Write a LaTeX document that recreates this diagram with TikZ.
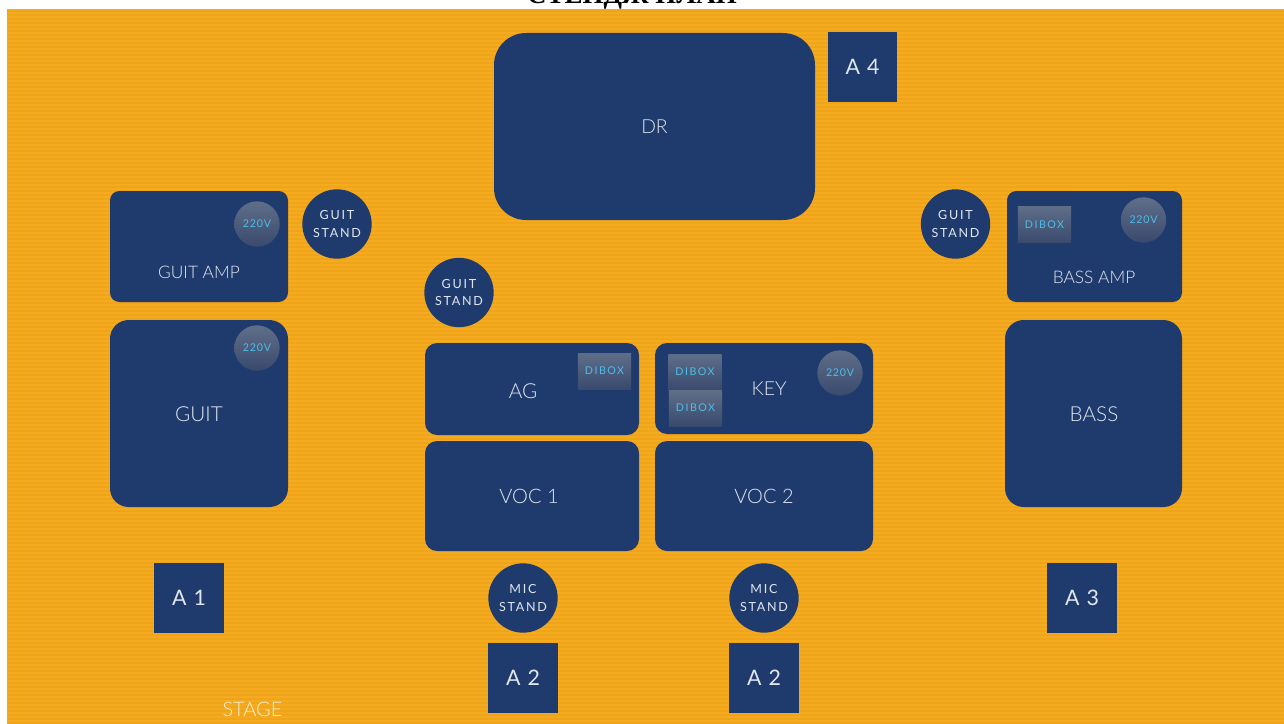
\documentclass[tikz,border=0pt]{standalone}
\usepackage{fontspec}
\setmainfont{Lato}[UprightFont=* Light,BoldFont=*]
\newfontfamily\spaced{Lato}[LetterSpace=14]
\newfontfamily\spacedlite{Lato}[LetterSpace=7]
\newfontfamily\titlefont{Liberation Serif}
\definecolor{stagebg}{HTML}{F5AB1F}
\definecolor{stripe}{HTML}{F0A41A}
\definecolor{navy}{HTML}{1F3B6D}
\definecolor{labelc}{HTML}{E2E7F0}
\definecolor{cyanc}{HTML}{4DBDE8}
\definecolor{gtop}{HTML}{5F6E88}
\definecolor{gbot}{HTML}{3A4A6E}
\tikzset{
  x=0.75pt,y=-0.75pt,
  blockbox/.style={fill=navy,draw=none,rounded corners=#1},
  blockbox/.default=9pt,
  lab/.style={text=labelc,font=\fontsize{14.5}{16}\selectfont,inner sep=0pt,align=center},
  amplab/.style={text=labelc,font=\fontsize{13}{15}\selectfont,inner sep=0pt,align=center},
  volt/.style={circle,minimum size=34pt,inner sep=0pt,top color=gtop,bottom color=gbot,draw=none,text=cyanc,font=\spacedlite\fontsize{8}{9}\selectfont},
  dib/.style={rectangle,minimum width=40pt,minimum height=27pt,inner sep=0pt,top color=gtop,bottom color=gbot,draw=none,text=cyanc,font=\spaced\fontsize{8}{9}\selectfont},
  standc/.style={circle,fill=navy,draw=none,minimum size=52pt,inner sep=0pt,text=labelc,font=\spaced\fontsize{9.4}{13}\selectfont,align=center},
  asq/.style={rectangle,fill=navy,draw=none,minimum size=52pt,inner sep=0pt,text=labelc,font=\spacedlite\fontsize{16}{19}\selectfont},
}
\newcommand{\blk}[5]{\path[blockbox=#5] (#1,#2) rectangle (#3,#4);}
\begin{document}
\begin{tikzpicture}
\useasboundingbox (0,0) rectangle (1284,724);
\clip (0,0) rectangle (1284,724);
\fill[white] (0,0) rectangle (1284,724);
\node[font=\titlefont\bfseries\fontsize{20.2}{22}\selectfont,anchor=base,text=black,inner sep=0pt] (title) at (632,4) {СТЕНДЖ ПЛАН};
\fill[stagebg] (7,9) rectangle (1284,724);
\foreach \k in {0,...,178} {\fill[stripe] (7,{10+4*\k}) rectangle (1284,{11.6+4*\k});}
\blk{494}{33}{815}{220}{24pt}
\node[lab] (dr) at (654.5,127) {DR};
\node[asq] (a4) at (862.5,67) {A 4};
\blk{110}{191}{288}{302}{7pt}
\node[amplab] (guitamp) at (199,272) {GUIT AMP};
\node[volt] (v1) at (257,224) {220V};
\node[standc] (gs1) at (337,224) {GUIT\\STAND};
\node[standc] (gs2) at (459,292.5) {GUIT\\STAND};
\node[standc] (gs3) at (955.5,224) {GUIT\\STAND};
\blk{1007}{191}{1182}{302}{7pt}
\node[amplab] (bassamp) at (1094,277) {BASS AMP};
\node[dib] (d1) at (1044.5,224.5) {DIBOX};
\node[volt] (v2) at (1143.5,220) {220V};
\blk{110}{320}{288}{507}{14pt}
\node[lab,font=\fontsize{15.5}{17}\selectfont] (guit) at (199,414) {GUIT};
\node[volt] (v3) at (257,348) {220V};
\blk{1005}{320}{1182}{507}{14pt}
\node[lab,font=\fontsize{15.5}{17}\selectfont] (bass) at (1094,414) {BASS};
\blk{425}{343}{639}{435}{9pt}
\node[lab,font=\fontsize{15.5}{17}\selectfont] (ag) at (523,391) {AG};
\node[dib] (d2) at (604.5,371) {DIBOX};
\blk{655}{343}{873}{434}{9pt}
\node[lab] (key) at (769,388.5) {KEY};
\node[dib] (d3) at (695,372) {DIBOX};
\node[dib] (d4) at (695.5,408) {DIBOX};
\node[volt] (v4) at (840,373) {220V};
\blk{425}{441}{639}{551}{9pt}
\node[lab,font=\fontsize{15}{17}\selectfont] (voc1) at (529,496) {VOC 1};
\blk{655}{441}{873}{551}{9pt}
\node[lab,font=\fontsize{15}{17}\selectfont] (voc2) at (764,496) {VOC 2};
\node[asq] (a1) at (189,598) {A 1};
\node[standc] (ms1) at (523,598) {MIC\\STAND};
\node[standc] (ms2) at (764,598) {MIC\\STAND};
\node[asq] (a3) at (1082,598) {A 3};
\node[asq] (a2l) at (523,678) {A 2};
\node[asq] (a2r) at (764,678) {A 2};
\node[text=white!80!stagebg,font=\fontsize{15}{17}\selectfont,inner sep=0pt] (stage) at (252.5,709) {STAGE};
\end{tikzpicture}
\end{document}
